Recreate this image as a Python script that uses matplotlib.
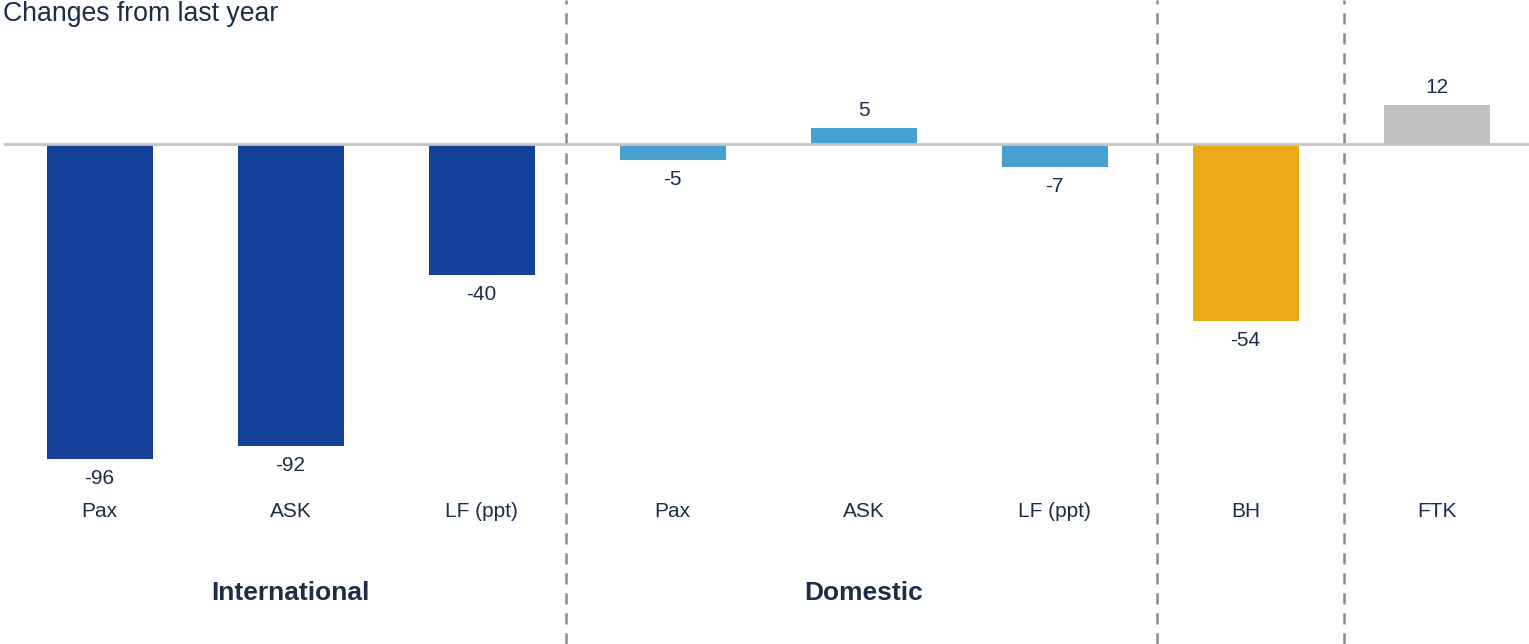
import matplotlib
matplotlib.use('Agg')
import matplotlib.pyplot as plt
import matplotlib.transforms as mtransforms

plt.rcParams['font.family'] = ['Liberation Sans', 'DejaVu Sans']

# Year-on-year changes by metric
metrics = ['Pax', 'ASK', 'LF (ppt)', 'Pax', 'ASK', 'LF (ppt)', 'BH', 'FTK']
changes = [-96, -92, -40, -5, 5, -7, -54, 12]
bar_colors = ['#15409a', '#15409a', '#15409a',
              '#46a1d1', '#46a1d1', '#46a1d1',
              '#eaaa17', '#c0c0c0']

# Segment headings (centred on a bar index) and dividers between segments
groups = ['International', 'Domestic']
group_centres = [1, 4]
dividers = [2.442, 5.537, 6.516]

text_color = '#1c2d4a'

fig = plt.figure(figsize=(15.29, 6.44), dpi=100, facecolor='white')
ax = fig.add_axes([0, 0, 1, 1])
ax.set_xlim(-0.521, 7.484)
ax.set_ylim(-152.4, 43.9)
ax.axis('off')

x = list(range(len(changes)))
ax.bar(x, changes, width=0.555, color=bar_colors, zorder=2)

# zero line
ax.axhline(0, xmin=0.0034, xmax=1, color='#c4c4c4', lw=2, zorder=3)

for xd in dividers:
	ax.axvline(xd, color='#8a8a8a', lw=1.8, ls=(0, (4.5, 3.5)), zorder=1)

# value labels
for xi, v in zip(x, changes):
	off = 12.5 if v > 0 else -14
	ax.annotate(str(v), xy=(xi, v), xytext=(0, off), textcoords='offset points',
		ha='center', va='center', fontsize=15, color=text_color)

trans = mtransforms.blended_transform_factory(ax.transData, ax.transAxes)

for xi, name in zip(x, metrics):
	ax.text(xi, 0.2065, name, transform=trans, ha='center', va='center',
		fontsize=15, color=text_color)

for xc, name in zip(group_centres, groups):
	ax.text(xc, 0.079, name, transform=trans, ha='center', va='center',
		fontsize=19, fontweight='bold', color=text_color)

fig.text(0.002, 0.999, 'Changes from last year', ha='left', va='top',
	fontsize=19.2, color=text_color)

plt.savefig('out.png', dpi=100, facecolor='white')
